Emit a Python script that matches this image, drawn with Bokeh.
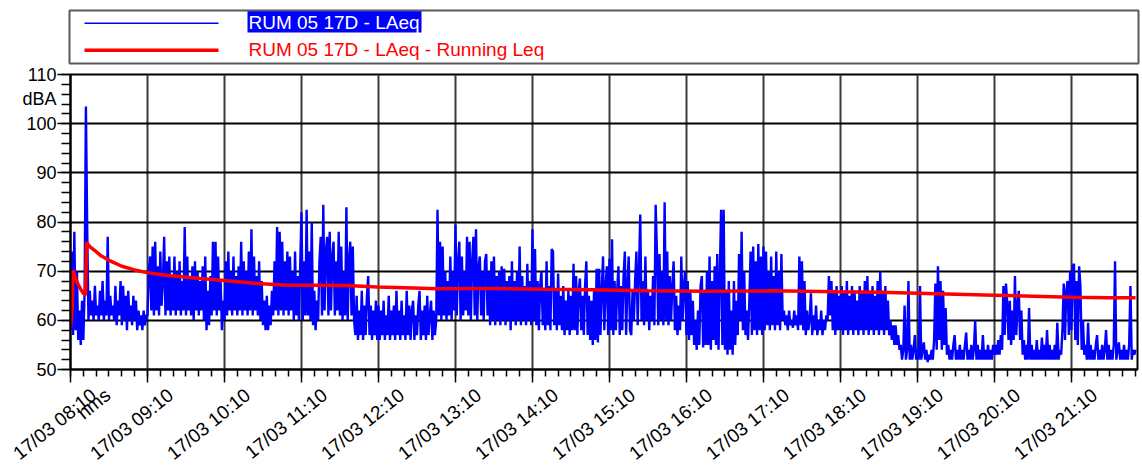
import math
from bokeh.plotting import figure
from bokeh.models import Range1d, LinearAxis, FixedTicker, Grid
from bokeh.layouts import column
from bokeh.embed import file_html
from bokeh.resources import INLINE
from bokeh.core.properties import value

# ---------------- data (one LAeq value per minute, starting 17/03 08:10) ----------------
h0810 = [58, 74, 57, 78, 58, 70, 56, 62, 55, 64, 56, 66, 103.5, 79, 60, 66, 61, 64, 60, 67,
         61, 63, 60, 66, 61, 68, 60, 64, 61, 77, 60, 65, 61, 63, 60, 67, 59, 64, 61, 68,
         59, 67, 60, 65, 58, 66, 60, 63, 59, 65, 60, 64, 58, 62, 59, 61, 58, 62, 59, 61]
h0910 = [61, 70, 73, 62, 75, 61, 76, 62, 71, 61, 74, 63, 68, 77, 61, 72, 62, 73, 61, 69,
         62, 73, 61, 70, 62, 72, 61, 68, 62, 79, 61, 73, 62, 69, 61, 71, 60, 72, 62, 70,
         61, 68, 62, 71, 60, 73, 58, 66, 59, 69, 61, 76, 62, 76, 61, 73, 62, 68, 58, 64]
h1010 = [60, 72, 61, 74, 62, 70, 61, 73, 62, 69, 61, 71, 62, 76, 61, 72, 62, 70, 61, 74,
         62, 78.5, 61, 73, 62, 69, 61, 72, 60, 68, 59, 64, 58, 65, 58, 63, 59, 66, 61, 72,
         62, 79, 61, 78, 62, 76, 61, 72, 62, 74, 61, 73, 62, 70, 60, 74, 61, 69, 60, 71]
h1110 = [82, 60, 72, 61, 82.5, 61, 74, 60, 80, 59, 66, 58, 64, 60, 72, 77, 61, 83.5, 62, 74,
         77, 61, 78, 62, 73, 76, 61, 72, 62, 78, 61, 75, 60, 70, 61, 83, 60, 72, 76, 61,
         75, 60, 57, 65, 56, 62, 57, 66, 56, 63, 57, 65, 69, 57, 63, 56, 62, 57, 64, 56]
h1210 = [63, 56, 62, 57, 64, 56, 61, 57, 65, 56, 62, 57, 63, 56, 66, 57, 62, 56, 64, 57,
         61, 56, 66, 57, 63, 56, 62, 64, 56, 61, 57, 63, 66, 56, 62, 57, 63, 56, 65, 57,
         61, 64, 56, 62, 57, 60, 82.5, 61, 76, 60, 75, 61, 70, 60, 68, 61, 73, 60, 70, 62]
h1310 = [79.5, 61, 72, 76, 60, 73, 61, 70, 62, 77, 61, 76, 60, 72, 77, 61, 78.5, 60, 71, 73,
         61, 70, 60, 72, 73.5, 61, 70, 59, 72, 60, 73, 59, 69, 60, 70, 59, 71, 60, 70.5, 59,
         68, 60, 69, 58, 72, 60, 68, 59, 70, 60, 75, 59, 69, 60, 67, 59, 71.5, 60, 68, 59]
h1410 = [78.5, 60, 74.5, 59, 68, 58, 67, 70, 59, 66, 58, 72, 59, 67, 58, 74.5, 74, 59, 66, 58,
         69.5, 59, 65, 58, 67, 57, 64, 58, 66, 57, 65, 58, 71.5, 58, 69, 57, 66, 68.5, 58, 65,
         57, 67, 72, 57, 65, 56, 64, 55, 66, 56, 70.5, 55.5, 70.5, 57, 66, 73, 58, 67, 71, 57]
h1510 = [72.5, 58, 76.5, 57, 68, 58, 66, 71, 57, 67, 58, 69, 74, 57, 67, 73, 58, 57, 66, 60,
         68, 74, 59, 70, 81.5, 60, 68, 59, 73, 60, 66, 58, 65, 60, 69, 59, 83.5, 74, 59, 73.5,
         60, 70, 59, 84, 60, 74, 59, 69, 60, 67, 72, 58, 65, 57, 63, 58, 73, 60, 67, 70]
h1610 = [57, 68, 56, 66, 57, 64, 55, 60, 54, 62, 55, 67, 69, 54.5, 66, 55, 70, 55, 73, 54,
         68, 56, 71, 55, 73.5, 54, 69, 82.5, 55, 82.5, 54, 66, 53, 68, 54, 62, 53, 68, 55, 64,
         57, 73.5, 60, 78, 58, 70, 57, 62, 56, 64, 74, 57, 75, 58, 72, 57, 75.5, 58, 73, 57]
h1710 = [75, 58, 74, 59, 70, 58, 73, 59, 69, 58, 74, 59, 70, 58, 73.5, 60, 62, 59, 61, 58,
         62, 59, 60, 58.5, 62, 59, 61, 58, 73, 59, 72, 58, 68, 57, 62, 58, 60, 65.5, 57, 61,
         58, 63, 57, 60, 58, 62, 57, 60, 58, 61, 60, 69, 61, 68, 58, 66, 57, 67, 58, 65]
h1810 = [58, 67, 57, 66, 58, 68, 57, 65, 58, 67, 57, 66, 58, 64, 57, 67, 58, 66, 57, 68,
         58, 69, 57, 66, 58, 67, 57, 65, 58, 68, 57, 70, 58, 66, 57, 67, 58, 64, 57, 60,
         56, 59, 55, 59, 55, 57, 54, 55, 52, 54, 63, 52, 54, 68, 52, 55, 52, 54, 57, 52]
h1910 = [54, 52, 67, 52, 54, 55.5, 52, 54, 51.5, 53, 52, 54, 52, 56, 67.5, 54, 71, 56, 68, 54,
         66, 55, 62.5, 53, 55, 52, 54, 52, 55, 57, 52, 54, 52, 55, 52, 54, 52, 55, 57.5, 52,
         54, 52, 55, 52, 54, 60, 52, 55, 52, 54, 52, 57, 52, 54, 52, 55, 52, 54, 52, 55]
h2010 = [53, 55, 53, 56, 53, 57, 54, 67, 57, 67.5, 63.5, 56, 64, 55, 62, 56, 69, 57, 63, 66,
         56, 62, 53, 56, 52, 55, 52, 62.5, 52, 55, 52, 54, 52, 56, 52, 54, 52, 56.5, 52, 55,
         52, 58, 52, 55, 52, 54, 52, 55, 52, 59.5, 52, 54, 53, 58, 67.5, 56, 66, 68, 57, 70]
h2110 = [58, 71, 71.5, 56, 68, 55, 71, 67, 54, 60, 53, 55, 52, 59.5, 52, 55, 52, 54, 52, 55,
         57, 52, 54, 52, 55, 52, 54, 58, 52, 55, 52, 54, 52, 55, 72, 52, 54, 55.5, 52, 54,
         52, 55, 52, 54, 52, 55, 67, 52, 54, 53, 54]

laeq = (h0810 + h0910 + h1010 + h1110 + h1210 + h1310 + h1410 +
        h1510 + h1610 + h1710 + h1810 + h1910 + h2010 + h2110)
minutes = list(range(len(laeq)))  # minutes after 17/03 08:10

# running Leq (minutes after 08:10, dBA)
run_t = [0, 1.3, 2.1, 4, 6, 8, 10, 11.7, 12.5, 15,
         19, 23.4, 30, 40, 49.3, 59.7, 76, 101, 120, 141,
         165, 215, 239, 267, 286, 330, 370, 407, 450, 495,
         546, 598, 630, 660, 690, 720, 750, 780, 810, 830]
run_leq = [58.5, 62.7, 70.2, 68.5, 67.3, 66.3, 65.5, 65.1, 75.9, 75.0,
           74.2, 73.2, 72.2, 71.0, 70.3, 69.7, 69.1, 68.5, 68.1, 67.6,
           67.2, 67.1, 66.8, 66.6, 66.4, 66.5, 66.3, 66.2, 66.0, 65.9,
           66.0, 65.8, 65.7, 65.5, 65.3, 65.1, 64.9, 64.7, 64.6, 64.6]

series_names = ["RUM 05 17D - LAeq", "RUM 05 17D - LAeq - Running Leq"]

x_major = [0, 60, 120, 180, 240, 300, 360, 420, 480, 540, 600, 660, 720, 780]
x_labels = ["17/03 08:10", "17/03 09:10", "17/03 10:10", "17/03 11:10", "17/03 12:10",
            "17/03 13:10", "17/03 14:10", "17/03 15:10", "17/03 16:10", "17/03 17:10",
            "17/03 18:10", "17/03 19:10", "17/03 20:10", "17/03 21:10"]
x_minor = list(range(0, 831, 10))
x_title = "hms"
y_major = [50, 60, 70, 80, 90, 100, 110]
y_labels = ["50", "60", "70", "80", "90", "100", "110"]
y_minor = list(range(50, 111, 2))
y_title = "dBA"

# ---------------- styling ----------------
AX_FONT = "Liberation Sans"
LEG_FONT = "Liberation Sans"
BLUE = "#0000FF"
RED = "#FF0000"

# ---------------- legend panel (coordinates = page pixels) ----------------
leg = figure(width=1142, height=66, x_range=Range1d(69, 1138), y_range=Range1d(63, 10),
             output_backend="svg", toolbar_location=None,
             x_axis_type=None, y_axis_type=None,
             min_border_left=69, min_border_right=4, min_border_top=10, min_border_bottom=3)
try:
    leg.frame_align = False
except Exception:
    pass
leg.outline_line_color = "#5a5a5a"
leg.outline_line_width = 2
leg.line([84, 218], [22.7, 22.7], line_color=BLUE, line_width=1.4)
leg.line([84, 218], [49.7, 49.7], line_color=RED, line_width=3.5)
leg.quad(left=[247], right=[421], top=[10.7], bottom=[32], fill_color=BLUE, line_color=None)
leg.text(x=[248], y=[21.5], text=[series_names[0]], text_color="white",
         text_font=value(LEG_FONT), text_font_size="19px",
         text_align="left", text_baseline="middle")
leg.text(x=[248], y=[48.5], text=[series_names[1]], text_color=RED,
         text_font=value(LEG_FONT), text_font_size="19px",
         text_align="left", text_baseline="middle")

# ---------------- main plot ----------------
p = figure(width=1142, height=408, x_range=Range1d(0, 831.5), y_range=Range1d(50, 110),
           output_backend="svg", toolbar_location=None,
           x_axis_type=None, y_axis_type=None,
           min_border_left=70, min_border_right=5, min_border_top=8, min_border_bottom=105)
try:
    p.frame_align = False
except Exception:
    pass
p.outline_line_color = "black"
p.outline_line_width = 2

xt = FixedTicker(ticks=x_major, minor_ticks=x_minor)
yt = FixedTicker(ticks=y_major, minor_ticks=y_minor)

# tick-mark axes (no text)
xa = LinearAxis(ticker=xt, axis_line_width=2, axis_line_color="black",
                major_tick_out=13, major_tick_in=0, minor_tick_out=7, minor_tick_in=0,
                major_tick_line_width=1.5, minor_tick_line_width=1.5,
                major_label_standoff=0, major_label_text_font_size="0px",
                major_label_overrides={t: "" for t in x_major})
ya = LinearAxis(ticker=yt, axis_line_width=2, axis_line_color="black",
                major_tick_out=13, major_tick_in=0, minor_tick_out=9, minor_tick_in=0,
                major_tick_line_width=1.5, minor_tick_line_width=1.5,
                major_label_standoff=0, major_label_text_font_size="0px",
                major_label_overrides={t: "" for t in y_major})
p.add_layout(xa, "below")
p.add_layout(ya, "left")

# label axes (text only)
X_SHIFT = 18  # label anchor offset from tick, in minutes
x_label_pos = [t + X_SHIFT for t in x_major] + [29]
x_over = {t + X_SHIFT: s for t, s in zip(x_major, x_labels)}
x_over[29] = x_title
xl = LinearAxis(ticker=FixedTicker(ticks=x_label_pos, minor_ticks=[]),
                axis_line_color=None, major_tick_line_color=None, minor_tick_line_color=None,
                major_tick_out=0, major_tick_in=0, minor_tick_out=0, minor_tick_in=0,
                major_label_orientation=math.radians(39), major_label_standoff=10,
                major_label_overrides=x_over,
                major_label_text_font=AX_FONT, major_label_text_font_size="19px",
                major_label_text_color="black")
y_over = {t: s for t, s in zip(y_major, y_labels)}
y_over[105] = y_title
yl = LinearAxis(ticker=FixedTicker(ticks=y_major + [105], minor_ticks=[]),
                axis_line_color=None, major_tick_line_color=None, minor_tick_line_color=None,
                major_tick_out=0, major_tick_in=0, minor_tick_out=0, minor_tick_in=0,
                major_label_standoff=1, major_label_overrides=y_over,
                major_label_text_font=AX_FONT, major_label_text_font_size="18px",
                major_label_text_color="black")
p.add_layout(xl, "below")
p.add_layout(yl, "left")

p.add_layout(Grid(dimension=0, ticker=xt, grid_line_color="#3a3a3a", grid_line_width=2))
p.add_layout(Grid(dimension=1, ticker=yt, grid_line_color="black", grid_line_width=2))

p.line(minutes, laeq, line_color=BLUE, line_width=2.4)
p.line(run_t, run_leq, line_color=RED, line_width=3.5)

layout = column(leg, p)
open("out.html", "w").write(file_html(layout, INLINE))
